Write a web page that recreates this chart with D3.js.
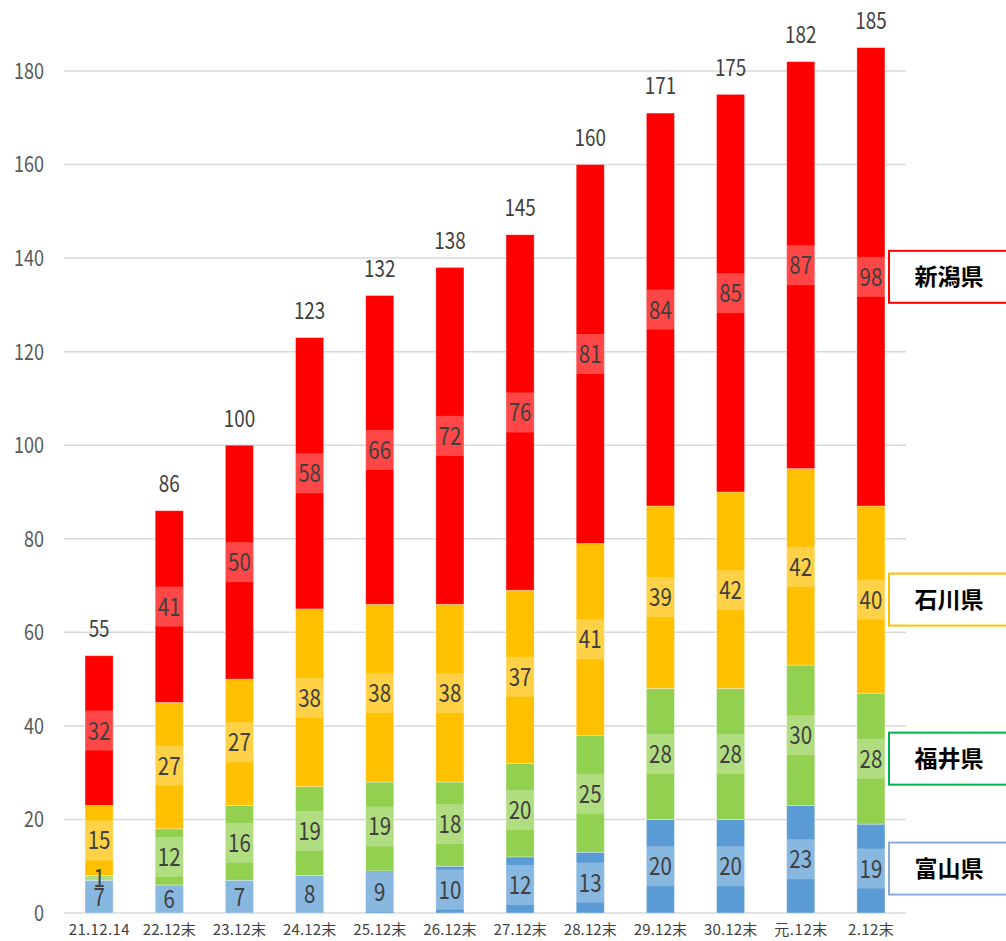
<!DOCTYPE html>
<html>
<head>
<meta charset="utf-8">
<script src="https://cdn.jsdelivr.net/npm/d3@7"></script>
<style>
  body { margin: 0; background: #fff; }
  svg text { font-family: "Noto Sans CJK JP", "Noto Sans", sans-serif; }
</style>
</head>
<body>
<div id="chart"></div>
<script>
// categories and series
var categories = ["21.12.14", "22.12末", "23.12末", "24.12末", "25.12末", "26.12末",
                  "27.12末", "28.12末", "29.12末", "30.12末", "元.12末", "2.12末"];
var toyama   = [7, 6, 7, 8, 9, 10, 12, 13, 20, 20, 23, 19];
var fukui    = [1, 12, 16, 19, 19, 18, 20, 25, 28, 28, 30, 28];
var ishikawa = [15, 27, 27, 38, 38, 38, 37, 41, 39, 42, 42, 40];
var niigata  = [32, 41, 50, 58, 66, 72, 76, 81, 84, 85, 87, 98];
var yTicks = [0, 20, 40, 60, 80, 100, 120, 140, 160, 180];

var seriesNames = ["富山県", "福井県", "石川県", "新潟県"];
var seriesColors = ["#5b9bd5", "#92d050", "#ffc000", "#ff0000"];
var legendBorders = ["#8eaadb", "#00b050", "#ffc000", "#ff0000"];

var width = 1006, height = 941;
var plot = {left: 64, right: 906, top: 71, bottom: 913};
var squeeze = 0.82; // narrow the digits like the original font

// build rows for d3.stack
var rows = categories.map(function(c, i) {
  return {cat: c, "富山県": toyama[i], "福井県": fukui[i], "石川県": ishikawa[i], "新潟県": niigata[i]};
});
var stacked = d3.stack().keys(seriesNames)(rows);

var svg = d3.select("#chart").append("svg")
  .attr("width", width)
  .attr("height", height);

var x = d3.scaleBand()
  .domain(categories)
  .range([plot.left, plot.right])
  .paddingInner(0.6)
  .paddingOuter(0.3);

var y = d3.scaleLinear()
  .domain([0, 180])
  .range([plot.bottom, plot.top]);

// gridlines
svg.append("g")
  .selectAll("line")
  .data(yTicks)
  .enter().append("line")
  .attr("x1", plot.left)
  .attr("x2", plot.right)
  .attr("y1", function(d) { return y(d); })
  .attr("y2", function(d) { return y(d); })
  .attr("stroke", "#d9d9d9")
  .attr("stroke-width", 1.5);

// y axis labels
svg.append("g")
  .selectAll("text")
  .data(yTicks)
  .enter().append("text")
  .attr("transform", function(d) { return "translate(44," + y(d) + ") scale(" + squeeze + ",1)"; })
  .attr("dy", "0.36em")
  .attr("text-anchor", "end")
  .attr("font-size", 22)
  .attr("fill", "#595959")
  .text(function(d) { return d; });

// x axis labels, spread like a monospaced gothic font (half width = 7.6px)
function labelWidth(s) {
  var w = 0;
  for (var i = 0; i < s.length; i++) w += s.charCodeAt(i) > 255 ? 15.2 : 7.6;
  return w;
}
var xAxis = d3.axisBottom(x).tickSize(0).tickPadding(11);
var gx = svg.append("g")
  .attr("transform", "translate(0," + plot.bottom + ")")
  .call(xAxis);
gx.select(".domain").remove();
gx.selectAll("text")
  .attr("font-size", 15)
  .attr("fill", "#404040")
  .attr("textLength", function(d) { return labelWidth(d); })
  .attr("lengthAdjust", "spacing")
  .style("font-family", "'Noto Sans CJK JP', sans-serif");

// stacked bars
var layers = svg.append("g")
  .selectAll("g")
  .data(stacked)
  .enter().append("g")
  .attr("fill", function(d, i) { return seriesColors[i]; });

layers.selectAll("rect")
  .data(function(d) { return d; })
  .enter().append("rect")
  .attr("x", function(d) { return x(d.data.cat); })
  .attr("y", function(d) { return y(d[1]); })
  .attr("width", x.bandwidth())
  .attr("height", function(d) { return y(d[0]) - y(d[1]); })
  .attr("stroke", "#ffffff")
  .attr("stroke-opacity", 0.4)
  .attr("stroke-width", 0.8);

// label boxes and values in the middle of each segment
var boxH = 40;
var labels = svg.append("g")
  .selectAll("g")
  .data(stacked)
  .enter().append("g");

labels.selectAll("rect")
  .data(function(d) { return d; })
  .enter().append("rect")
  .attr("x", function(d) { return x(d.data.cat); })
  .attr("width", x.bandwidth())
  .attr("y", function(d) {
    var mid = y((d[0] + d[1]) / 2);
    var h = Math.min(boxH, y(d[0]) - y(d[1]));
    return mid - h / 2;
  })
  .attr("height", function(d) { return Math.min(boxH, y(d[0]) - y(d[1])); })
  .attr("fill", "#ffffff")
  .attr("fill-opacity", 0.28);

labels.selectAll("text")
  .data(function(d) { return d; })
  .enter().append("text")
  .attr("transform", function(d) {
    var cx = x(d.data.cat) + x.bandwidth() / 2;
    return "translate(" + cx + "," + y((d[0] + d[1]) / 2) + ") scale(" + squeeze + ",1)";
  })
  .attr("dy", "0.36em")
  .attr("text-anchor", "middle")
  .attr("font-size", 25)
  .attr("fill", "#404040")
  .text(function(d) { return d[1] - d[0]; });

// totals above bars
var topLayer = stacked[stacked.length - 1];
svg.append("g")
  .selectAll("text")
  .data(topLayer)
  .enter().append("text")
  .attr("transform", function(d) {
    var cx = x(d.data.cat) + x.bandwidth() / 2;
    return "translate(" + cx + "," + (y(d[1]) - 27) + ") scale(" + squeeze + ",1)";
  })
  .attr("dy", "0.36em")
  .attr("text-anchor", "middle")
  .attr("font-size", 23)
  .attr("fill", "#404040")
  .text(function(d) { return d[1]; });

// legend boxes, lined up with the last bar's segments
var last = categories.length - 1;
var legend = svg.append("g")
  .selectAll("g")
  .data(stacked)
  .enter().append("g")
  .attr("transform", function(d) {
    var mid = y((d[last][0] + d[last][1]) / 2);
    return "translate(889," + mid + ")";
  });

legend.append("rect")
  .attr("x", 0)
  .attr("y", -26)
  .attr("width", 130)
  .attr("height", 52)
  .attr("fill", "#fff")
  .attr("stroke", function(d, i) { return legendBorders[i]; })
  .attr("stroke-width", 2);

legend.append("text")
  .attr("x", 60)
  .attr("dy", "0.36em")
  .attr("text-anchor", "middle")
  .attr("font-size", 23)
  .attr("font-weight", "bold")
  .attr("fill", "#000")
  .text(function(d) { return d.key; });
</script>
</body>
</html>
